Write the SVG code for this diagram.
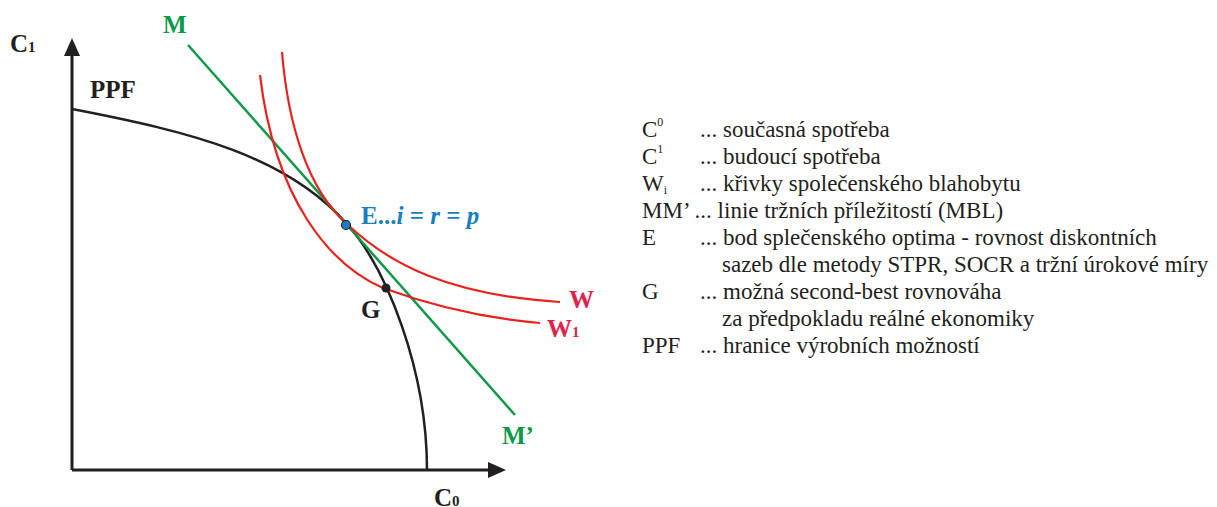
<svg xmlns="http://www.w3.org/2000/svg" width="1217" height="507" viewBox="0 0 1217 507">
<style>
.ax{stroke:#231f20;stroke-width:3;fill:none}
.ppf{stroke:#231f20;stroke-width:2.5;fill:none}
.red{stroke:#e8231f;stroke-width:2.2;fill:none}
.grn{stroke:#0d9a48;stroke-width:2.5;fill:none}
.lbl{font-family:"Liberation Serif",serif;font-weight:bold;font-size:25px;fill:#231f20}
.g{fill:#0d9a48}
.r{fill:#e0234a}
.b{fill:#1a7fc0}
.leg{font-family:"Liberation Serif",serif;font-size:23px;fill:#231f20}
</style>
<rect width="1217" height="507" fill="#fff"/>
<g id="axes">
<path class="ax" d="M72,470 V52 M72,470 H492"/>
<polygon points="72,38 64,56 80,56" fill="#231f20"/>
<polygon points="506,470 488,462 488,478" fill="#231f20"/>
</g>
<g id="connectors">
<path id="ppf" class="ppf" d="M72,109 C192,132 287,156 347,224 C387,269 427,370 427,470"/>
<path id="mline" class="grn" d="M188,45 L515,415"/>
<path id="w" class="red" d="M282,52 C288,125 308,190 347,224 C390,265 450,295 560,302"/>
<path id="w1" class="red" d="M260,75 C275,200 330,265 383,288 C430,305 480,318 540,323"/>
</g>
<g id="node-E"><circle cx="346" cy="225" r="4.5" fill="#1a7fc0" stroke="#231f20" stroke-width="1.2"/>
<text class="lbl b" x="361" y="224">E...<tspan font-style="italic">i</tspan> = <tspan font-style="italic">r</tspan> = <tspan font-style="italic">p</tspan></text></g>
<g id="node-G"><circle cx="386" cy="288" r="4.5" fill="#231f20"/>
<text class="lbl" x="361" y="318">G</text></g>
<g id="label-C1"><text class="lbl" x="10" y="52">C<tspan font-size="15">1</tspan></text></g>
<g id="label-C0"><text class="lbl" x="434" y="506">C<tspan font-size="15">0</tspan></text></g>
<g id="label-PPF"><text class="lbl" x="90" y="98">PPF</text></g>
<g id="label-M"><text class="lbl g" x="163" y="33">M</text></g>
<g id="label-M2"><text class="lbl g" x="502" y="444">M’</text></g>
<g id="label-W"><text class="lbl r" x="569" y="308">W</text></g>
<g id="label-W1"><text class="lbl r" x="547" y="337">W<tspan font-size="15">1</tspan></text></g>
<g id="legend">
<text class="leg" x="642" y="137">C<tspan font-size="12" dy="-11">0</tspan></text><text class="leg" x="700" y="137">... současná spotřeba</text>
<text class="leg" x="642" y="164">C<tspan font-size="12" dy="-11">1</tspan></text><text class="leg" x="700" y="164">... budoucí spotřeba</text>
<text class="leg" x="642" y="191">W<tspan font-size="12" dy="3">i</tspan></text><text class="leg" x="700" y="191">... křivky společenského blahobytu</text>
<text class="leg" x="642" y="218">MM’ ... linie tržních příležitostí (MBL)</text>
<text class="leg" x="642" y="245">E</text><text class="leg" x="700" y="245">... bod splečenského optima - rovnost diskontních</text>
<text class="leg" x="722" y="272">sazeb dle metody STPR, SOCR a tržní úrokové míry</text>
<text class="leg" x="642" y="299">G</text><text class="leg" x="700" y="299">... možná second-best rovnováha</text>
<text class="leg" x="722" y="326">za předpokladu reálné ekonomiky</text>
<text class="leg" x="642" y="353">PPF</text><text class="leg" x="700" y="353">... hranice výrobních možností</text>
</g>
</svg>
